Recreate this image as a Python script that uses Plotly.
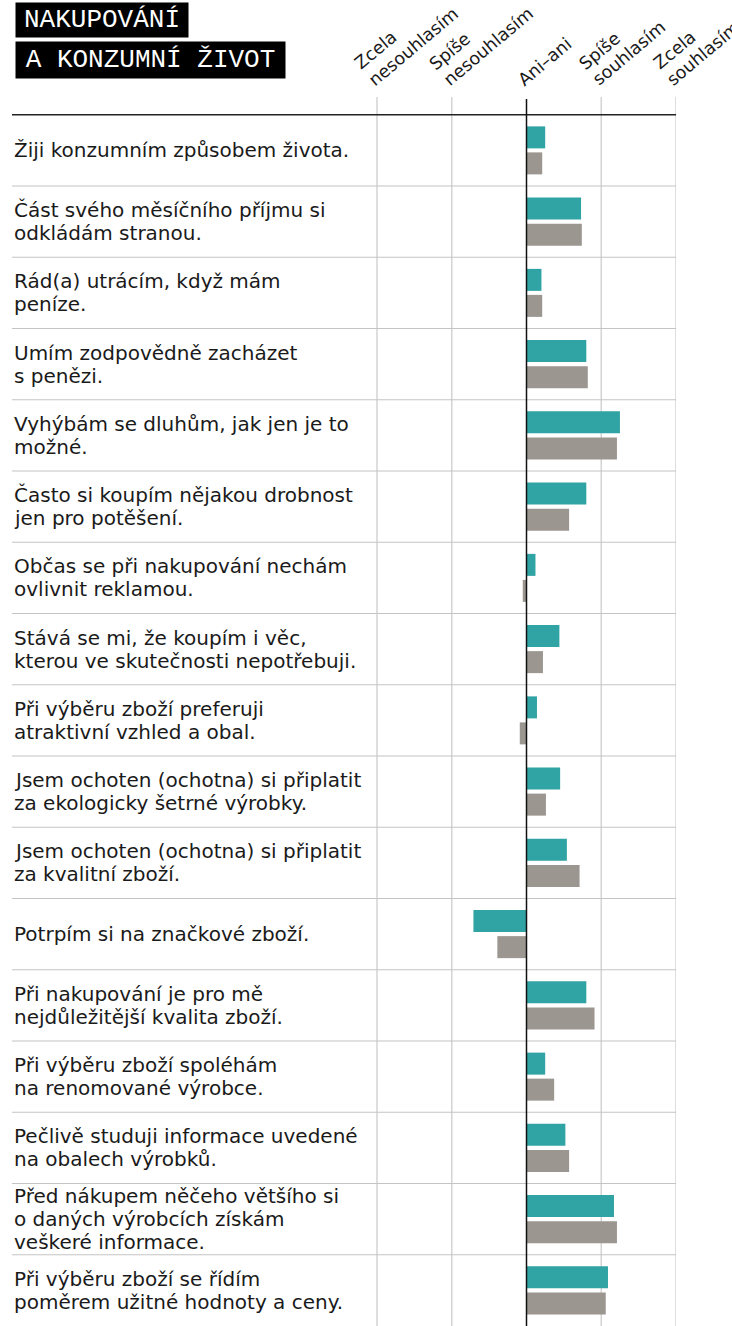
import math
import plotly.graph_objects as go

# Statements (row labels, top to bottom)
statements = [
    "Žiji konzumním způsobem života.",
    "Část svého měsíčního příjmu si<br>odkládám stranou.",
    "Rád(a) utrácím, když mám<br>peníze.",
    "Umím zodpovědně zacházet<br>s penězi.",
    "Vyhýbám se dluhům, jak jen je to<br>možné.",
    "Často si koupím nějakou drobnost<br>jen pro potěšení.",
    "Občas se při nakupování nechám<br>ovlivnit reklamou.",
    "Stává se mi, že koupím i věc,<br>kterou ve skutečnosti nepotřebuji.",
    "Při výběru zboží preferuji<br>atraktivní vzhled a obal.",
    "Jsem ochoten (ochotna) si připlatit<br>za ekologicky šetrné výrobky.",
    "Jsem ochoten (ochotna) si připlatit<br>za kvalitní zboží.",
    "Potrpím si na značkové zboží.",
    "Při nakupování je pro mě<br>nejdůležitější kvalita zboží.",
    "Při výběru zboží spoléhám<br>na renomované výrobce.",
    "Pečlivě studuji informace uvedené<br>na obalech výrobků.",
    "Před nákupem něčeho většího si<br>o daných výrobcích získám<br>veškeré informace.",
    "Při výběru zboží se řídím<br>poměrem užitné hodnoty a ceny.",
]

# Mean agreement score (-2 = zcela nesouhlasím ... +2 = zcela souhlasím)
group_1 = [0.25, 0.73, 0.20, 0.80, 1.25, 0.80, 0.12, 0.44, 0.14, 0.45,
           0.54, -0.71, 0.80, 0.25, 0.52, 1.17, 1.09]
group_2 = [0.21, 0.74, 0.21, 0.82, 1.21, 0.57, -0.05, 0.22, -0.09, 0.26,
           0.71, -0.39, 0.91, 0.37, 0.57, 1.21, 1.06]

# Scale points and their headers
scale_values = [-2, -1, 0, 1, 2]
scale_labels = ["Zcela<br>nesouhlasím", "Spíše<br>nesouhlasím", "Ani–ani",
                "Spíše<br>souhlasím", "Zcela<br>souhlasím"]

title_lines = ["NAKUPOVÁNÍ", "A KONZUMNÍ ŽIVOT"]

TEAL = "#30a3a4"
GREY = "#9b9690"
FONT = "DejaVu Sans"
INK = "#1a1a1a"

W, H = 732, 1326
M_L, M_R, M_T, M_B = 12, 56, 114, 0
plot_h = H - M_T - M_B
x_min, x_max = -6.883, 2.0

fig = go.Figure()
fig.add_trace(go.Bar(y=statements, x=group_1, orientation="h", name="Skupina 1",
                     marker=dict(color=TEAL, line=dict(width=0))))
fig.add_trace(go.Bar(y=statements, x=group_2, orientation="h", name="Skupina 2",
                     marker=dict(color=GREY, line=dict(width=0))))

shapes = []
# vertical scale lines, reaching up towards the headers
grid_top = 1 + 17 / plot_h
for v in scale_values:
    if v == 0:
        continue
    shapes.append(dict(type="line", xref="x", yref="paper", x0=v, x1=v,
                       y0=0, y1=grid_top, layer="below",
                       line=dict(color="#d3d3d3", width=1.5)))
# row separators
for i in range(1, len(statements)):
    shapes.append(dict(type="line", xref="paper", yref="y", x0=0, x1=1,
                       y0=i - 0.5, y1=i - 0.5, layer="below",
                       line=dict(color="#c4c4c4", width=1.2)))
# top rule
shapes.append(dict(type="line", xref="paper", yref="y", x0=0, x1=1,
                   y0=-0.5, y1=-0.5, line=dict(color="#222222", width=1.5)))
# zero line
shapes.append(dict(type="line", xref="x", yref="paper", x0=0, x1=0,
                   y0=0, y1=1 + 15 / plot_h, layer="above",
                   line=dict(color="#111111", width=1.5)))

annotations = []

# row labels, one annotation per line for a tighter leading
label_size = 20
label_leading = 23
for s in statements:
    lines = s.split("<br>")
    n = len(lines)
    for k, ln in enumerate(lines):
        offset = (k - (n - 1) / 2) * label_leading
        annotations.append(dict(xref="paper", yref="y", x=0, y=s,
                                xshift=1, yshift=-offset,
                                xanchor="left", yanchor="middle", align="left",
                                text=ln, showarrow=False, borderpad=0,
                                font=dict(family=FONT, size=label_size,
                                          color=INK)))

# rotated scale headers, one annotation per line
angle = 40
hdr_size = 17.5
hdr_leading = 21
box_h = 1.164 * hdr_size
sin_a, cos_a = math.sin(math.radians(angle)), math.cos(math.radians(angle))
base_y = 91  # bottom of the lowest header line, in pixels from the top
for v, lab in zip(scale_values, scale_labels):
    lines = lab.split("<br>")
    n = len(lines)
    for k, ln in enumerate(lines):
        j = n - 1 - k  # lines below this one
        xs = -1 - box_h * sin_a - j * hdr_leading * sin_a
        ys = (M_T - base_y) + j * hdr_leading * cos_a
        annotations.append(dict(xref="x", yref="paper", x=v, y=1,
                                xshift=xs, yshift=ys, xanchor="left",
                                yanchor="bottom", textangle=-angle, text=ln,
                                showarrow=False, borderpad=0,
                                font=dict(family=FONT, size=hdr_size,
                                          color=INK)))

# title blocks (white on black)
title_boxes = [(2, 170, 32), (41, 267, 34)]
for line, (top, bw, bh) in zip(title_lines, title_boxes):
    annotations.append(dict(xref="paper", yref="paper",
                            x=3 / (W - M_L - M_R), y=1 + (M_T - top) / plot_h,
                            xanchor="left", yanchor="top", text=line,
                            showarrow=False, bgcolor="#000000", borderpad=1,
                            width=bw, height=bh, align="center", valign="middle",
                            font=dict(family="Liberation Mono", size=26,
                                      color="#ffffff")))

fig.update_layout(
    width=W, height=H,
    margin=dict(l=M_L, r=M_R, t=M_T, b=M_B),
    paper_bgcolor="white", plot_bgcolor="white",
    barmode="group", bargap=0.27, bargroupgap=0.154,
    showlegend=False,
    shapes=shapes, annotations=annotations,
    xaxis=dict(range=[x_min, x_max], showgrid=False, zeroline=False,
               showticklabels=False, ticks="", fixedrange=True),
    yaxis=dict(autorange="reversed", showgrid=False, zeroline=False,
               showticklabels=False, ticks="", type="category",
               categoryorder="array", categoryarray=statements),
)

fig.write_html("out.html")
